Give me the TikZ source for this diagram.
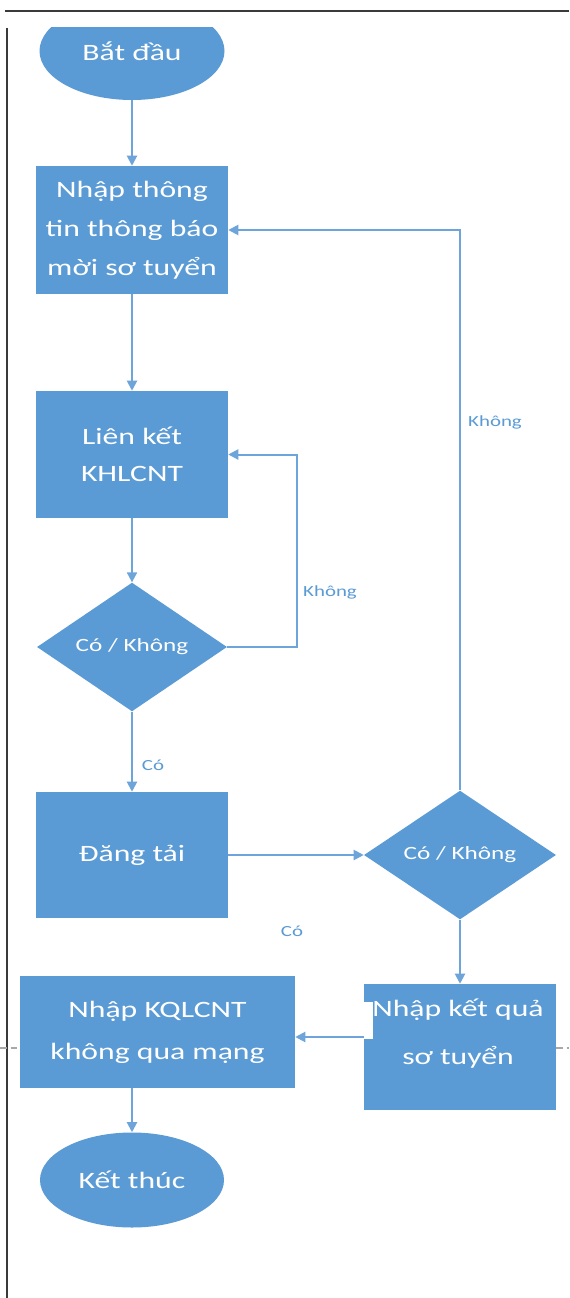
\documentclass[tikz,border=0pt]{standalone}
\usepackage{fontspec}
\setmainfont{Carlito}[FakeStretch=1.35]
\usetikzlibrary{shapes.geometric,arrows.meta,calc}
\definecolor{boxblue}{HTML}{5B9BD5}
\definecolor{lineblue}{HTML}{6DA5DA}
\definecolor{framegray}{HTML}{3A3A3A}
\definecolor{dashgray}{HTML}{A8A8A8}
\newcommand\bigtxt{\fontsize{17.6pt}{29.25pt}\selectfont}
\begin{document}
\begin{tikzpicture}[x=0.75pt,y=-0.75pt,
  box/.style={rectangle, fill=boxblue, draw=none, text=white, inner sep=0pt, align=center, font=\bigtxt},
  term/.style={ellipse, fill=boxblue, draw=none, text=white, inner sep=0pt, font=\bigtxt},
  decide/.style={diamond, fill=boxblue, draw=none, text=white, inner sep=0pt, font=\fontsize{14pt}{17pt}\selectfont},
  btxt/.style={text=white, inner sep=0pt, align=center, font=\bigtxt},
  lbl/.style={text=boxblue, inner sep=0pt, font=\fontsize{11.6pt}{14pt}\selectfont},
  conn/.style={draw=lineblue, line width=1.5pt},
  arr/.style={conn, -{Triangle[length=7.5pt,width=7.5pt]}},
  frame/.style={draw=framegray, line width=1.6pt}
]
\useasboundingbox (0,0) rectangle (569,1298);
\fill[white] (0,0) rectangle (569,1298);

% page frame
\draw[frame] (5,11) -- (569,11);
\draw[frame] (7,28) -- (7,1298);
\draw[draw=dashgray, line width=1pt, dash pattern=on 5pt off 3pt] (0,1048) -- (20,1048);
\draw[draw=dashgray, line width=1pt, dash pattern=on 5pt off 3pt] (556,1048) -- (569,1048);

% nodes
\begin{scope}
  \clip (0,28) rectangle (569,1298);
  \node[term, minimum width=138.75pt, minimum height=73.5pt] (start) at (132,51) {Bắt đầu};
\end{scope}

\node[box, minimum width=144pt, minimum height=96pt, font=\fontsize{17.6pt}{29.25pt}\selectfont] (b1) at (132,230) {Nhập thông\\tin thông báo\\mời sơ tuyển};
\node[box, minimum width=144pt, minimum height=95.25pt, font=\fontsize{17.6pt}{27.75pt}\selectfont] (b2) at (132,454.5) {Liên kết\\KHLCNT};
\node[decide, minimum width=142.5pt, minimum height=94.5pt] (d1) at (132,647) {Có / Không};
\node[box, minimum width=144pt, minimum height=94.5pt] (b3) at (132,855) {Đăng tải};
\node[decide, minimum width=144pt, minimum height=93.75pt] (d2) at (460,855) {Có / Không};
\node[box, minimum width=144pt, minimum height=94.5pt] (b5) at (460,1047) {};
\fill[white] (364,1002) rectangle (373,1039);
\node[btxt, font=\fontsize{17.6pt}{36pt}\selectfont] (b5t) at (458,1034) {Nhập kết quả\\sơ tuyển};
\node[box, minimum width=206.25pt, minimum height=84pt, font=\fontsize{17.6pt}{31.5pt}\selectfont] (b4) at (157.5,1032) {Nhập KQLCNT\\không qua mạng};
\node[term, minimum width=138pt, minimum height=71.25pt] (end) at (132,1180) {Kết thúc};

% connectors
\draw[arr] (start.south) -- (b1.north);
\draw[arr] (b1.south) -- (b2.north);
\draw[arr] (b2.south) -- (d1.north);
\draw[arr] (d1.east) -- ++(70,0) |- (b2.east);
\draw[arr] (d1.south) -- (b3.north);
\draw[arr] (b3.east) -- (d2.west);
\draw[arr] (d2.north) |- (b1.east);
\draw[arr] (d2.south) -- (b5.north);
\draw[arr] ([yshift=7.5pt]b5.west) -- ([yshift=7.5pt]b5.west -| b4.east);
\draw[arr] (b4.south -| end.north) -- (end.north);

% labels
\node[lbl] (l1) at (330,592) {Không};
\node[lbl] (l2) at (495,422) {Không};
\node[lbl] (l3) at (153,765) {Có};
\node[lbl] (l4) at (292,931) {Có};
\end{tikzpicture}
\end{document}
